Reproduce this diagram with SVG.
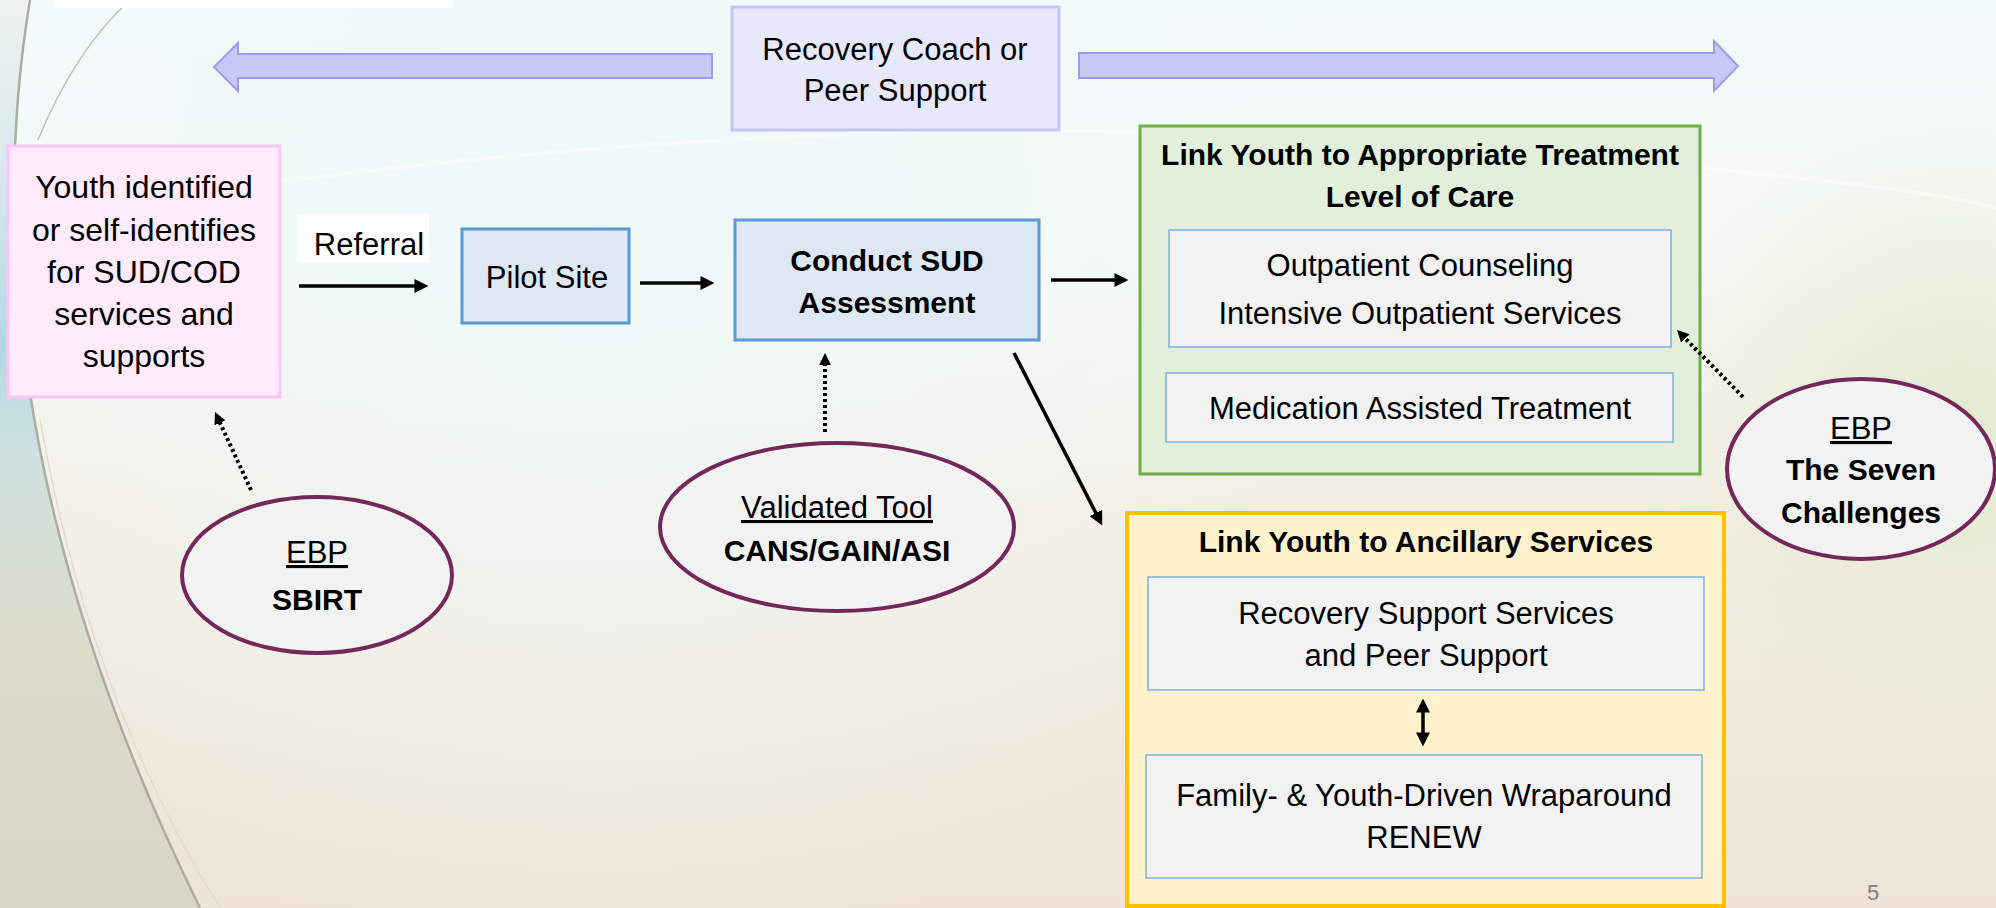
<svg xmlns="http://www.w3.org/2000/svg" width="1996" height="908" viewBox="0 0 1996 908">
<defs>
  <linearGradient id="bg" x1="0" y1="0" x2="0" y2="1">
    <stop offset="0" stop-color="#f4fbfb"/>
    <stop offset="0.3" stop-color="#f5f9f5"/>
    <stop offset="0.55" stop-color="#f3efe6"/>
    <stop offset="1" stop-color="#eee3d5"/>
  </linearGradient>
  <radialGradient id="cyan" cx="600" cy="230" r="750" gradientUnits="userSpaceOnUse">
    <stop offset="0" stop-color="#eef9f8" stop-opacity="0.9"/>
    <stop offset="1" stop-color="#eef9f8" stop-opacity="0"/>
  </radialGradient>
  <radialGradient id="green" cx="1960" cy="430" r="320" gradientUnits="userSpaceOnUse">
    <stop offset="0" stop-color="#e0e9cc" stop-opacity="0.9"/>
    <stop offset="1" stop-color="#e0e9cc" stop-opacity="0"/>
  </radialGradient>
  <linearGradient id="leftbg" x1="0" y1="0" x2="0" y2="1">
    <stop offset="0" stop-color="#eef3ef"/>
    <stop offset="0.2" stop-color="#d6e8ec"/>
    <stop offset="0.38" stop-color="#b2d8e6"/>
    <stop offset="0.5" stop-color="#cfe1df"/>
    <stop offset="0.7" stop-color="#dcdccb"/>
    <stop offset="1" stop-color="#d8d6c4"/>
  </linearGradient>
  <marker id="ah" markerUnits="userSpaceOnUse" markerWidth="14" markerHeight="14" viewBox="0 0 13 13" refX="7" refY="6.5" orient="auto-start-reverse">
    <path d="M0,0 L13,6.5 L0,13 Z" fill="#000"/>
  </marker>
  <marker id="ahs" markerUnits="userSpaceOnUse" markerWidth="12" markerHeight="12" viewBox="0 0 12 12" refX="6" refY="6" orient="auto">
    <path d="M0,0 L12,6 L0,12 Z" fill="#000"/>
  </marker>
  <style>
    .t { font-family: "Liberation Sans", Arial, sans-serif; fill: #000; text-anchor: middle; }
    .r { font-size: 31px; }
    .b { font-size: 30px; font-weight: bold; }
    .u { text-decoration: underline; }
    .blue { fill: #dde8f4; stroke: #5b9bd5; stroke-width: 3; }
    .inner { fill: #f2f2f2; stroke: #7fb0de; stroke-width: 1.5; }
    .oval { fill: #f2f2f2; stroke: #73275a; stroke-width: 4; }
    .solid { stroke: #000; stroke-width: 3.5; fill: none; }
    .dot { stroke: #000; stroke-width: 4; stroke-dasharray: 3 3; fill: none; }
    .block { fill: #c9c9f8; stroke: #9c9cf0; stroke-width: 2; }
  </style>
</defs>

<!-- background -->
<g id="background">
  <rect x="0" y="0" width="1996" height="908" fill="url(#bg)"/>
  <rect x="0" y="0" width="1996" height="908" fill="url(#cyan)"/>
  <rect x="0" y="0" width="1996" height="908" fill="url(#green)"/>
  <path d="M0,0 L30,0 Q-40,420 200,908 L0,908 Z" fill="url(#leftbg)"/>
  <path d="M30,0 Q-40,420 200,908" fill="none" stroke="#aeaca2" stroke-width="2.5"/>
  <path d="M130,0 Q75,50 38,140" fill="none" stroke="#c4c2b8" stroke-width="1.5"/>
  <path d="M40,420 Q90,700 220,908" fill="none" stroke="#e2dccf" stroke-width="1.5"/>
  <path d="M280,182 Q900,100 1500,150 T1996,225" fill="none" stroke="#ffffff" stroke-width="4" stroke-opacity="0.45"/>
  <rect x="54" y="0" width="399" height="8" fill="#ffffff"/>
  <text x="1873" y="900" font-family="Liberation Sans, Arial, sans-serif" font-size="22" fill="#7f7f7f" text-anchor="middle">5</text>
</g>

<g id="recovery-coach">
  <rect x="732" y="7" width="327" height="123" fill="#e8e8fd" stroke="#c5c5f5" stroke-width="3"/>
  <text class="t r" x="895" y="60">Recovery Coach or</text>
  <text class="t r" x="895" y="101">Peer Support</text>
</g>

<g id="youth">
  <rect x="8" y="146" width="272" height="251" fill="#ffebfc" stroke="#fbc6f3" stroke-width="3"/>
  <text class="t" font-size="32" x="144" y="198">Youth identified</text>
  <text class="t" font-size="32" x="144" y="241">or self-identifies</text>
  <text class="t" font-size="32" x="144" y="283">for SUD/COD</text>
  <text class="t" font-size="32" x="144" y="325">services and</text>
  <text class="t" font-size="32" x="144" y="367">supports</text>
</g>

<g id="referral">
  <rect x="297" y="214" width="132" height="49" fill="#ffffff"/>
  <text class="t r" x="369" y="255">Referral</text>
</g>

<g id="pilot-site">
  <rect class="blue" x="462" y="229" width="167" height="94"/>
  <text class="t r" x="547" y="288">Pilot Site</text>
</g>

<g id="conduct-sud">
  <rect class="blue" x="735" y="220" width="304" height="120"/>
  <text class="t b" x="887" y="271">Conduct SUD</text>
  <text class="t b" x="887" y="313">Assessment</text>
</g>

<g id="treatment">
  <rect x="1140" y="126" width="560" height="348" fill="#e2efda" stroke="#70ad47" stroke-width="3"/>
  <text class="t b" x="1420" y="165">Link Youth to Appropriate Treatment</text>
  <text class="t b" x="1420" y="207">Level of Care</text>
</g>
<g id="outpatient">
  <rect class="inner" x="1169" y="230" width="502" height="117"/>
  <text class="t r" x="1420" y="276">Outpatient Counseling</text>
  <text class="t r" x="1420" y="324">Intensive Outpatient Services</text>
</g>
<g id="mat">
  <rect class="inner" x="1166" y="373" width="507" height="69"/>
  <text class="t r" x="1420" y="419">Medication Assisted Treatment</text>
</g>

<g id="ancillary">
  <rect x="1127" y="513" width="597" height="393" fill="#fff2cc" stroke="#ffc000" stroke-width="4"/>
  <text class="t b" x="1426" y="552">Link Youth to Ancillary Services</text>
</g>
<g id="recovery-support">
  <rect class="inner" x="1148" y="577" width="556" height="113"/>
  <text class="t r" x="1426" y="624">Recovery Support Services</text>
  <text class="t r" x="1426" y="666">and Peer Support</text>
</g>
<g id="wraparound">
  <rect class="inner" x="1146" y="755" width="556" height="123"/>
  <text class="t r" x="1424" y="806">Family- &amp; Youth-Driven Wraparound</text>
  <text class="t r" x="1424" y="848">RENEW</text>
</g>

<g id="sbirt">
  <ellipse class="oval" cx="317" cy="575" rx="135" ry="78"/>
  <text class="t r u" x="317" y="563">EBP</text>
  <text class="t b" x="317" y="610">SBIRT</text>
</g>

<g id="validated-tool">
  <ellipse class="oval" cx="837" cy="527" rx="177" ry="84"/>
  <text class="t r u" x="837" y="518">Validated Tool</text>
  <text class="t b" x="837" y="561">CANS/GAIN/ASI</text>
</g>

<g id="seven-challenges">
  <ellipse class="oval" cx="1861" cy="469" rx="134" ry="90"/>
  <text class="t r u" x="1861" y="439">EBP</text>
  <text class="t b" x="1861" y="480">The Seven</text>
  <text class="t b" x="1861" y="523">Challenges</text>
</g>

<!-- connectors -->
<g id="connectors">
  <polygon class="block" points="214,67 238,43 238,54 712,54 712,78 238,78 238,91"/>
  <polygon class="block" points="1738,66 1714,41 1714,53 1079,53 1079,78 1714,78 1714,91"/>
  <line class="solid" x1="299" y1="286" x2="422" y2="286" marker-end="url(#ah)"/>
  <line class="solid" x1="640" y1="283" x2="708" y2="283" marker-end="url(#ah)"/>
  <line class="solid" x1="1051" y1="280" x2="1122" y2="280" marker-end="url(#ah)"/>
  <line class="solid" x1="1014" y1="353" x2="1099.3" y2="519.7" marker-end="url(#ah)"/>
  <line class="solid" x1="1423" y1="705" x2="1423" y2="740" marker-start="url(#ah)" marker-end="url(#ah)"/>
  <line class="dot" x1="251" y1="490" x2="217.5" y2="417.4" marker-end="url(#ahs)"/>
  <line class="dot" x1="825" y1="432" x2="825" y2="359" marker-end="url(#ahs)"/>
  <line class="dot" x1="1743" y1="397" x2="1681.2" y2="334.3" marker-end="url(#ahs)"/>
</g>
</svg>
